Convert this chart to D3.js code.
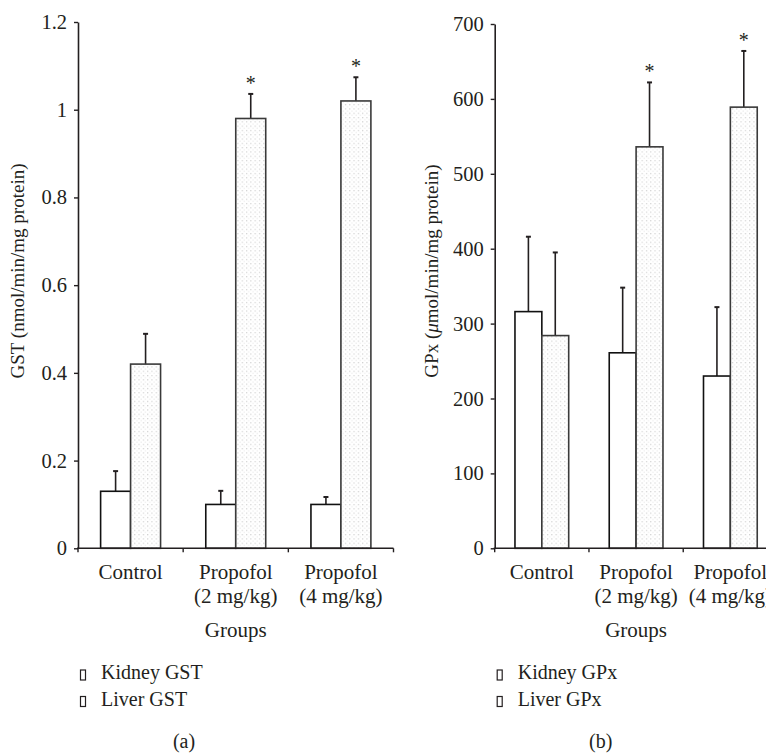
<!DOCTYPE html>
<html>
<head>
<meta charset="utf-8">
<script src="https://cdn.jsdelivr.net/npm/d3@7"></script>
<style>
  body { margin: 0; background: #fff; }
  text { font-family: "Liberation Serif", "Times New Roman", serif; fill: #231f20; }
</style>
</head>
<body>
<div id="chart"></div>
<script>
// groups on the x axis (label lines)
var groups = ["Control", "Propofol (2 mg/kg)", "Propofol (4 mg/kg)"];
var groupLines = [["Control"], ["Propofol", "(2 mg/kg)"], ["Propofol", "(4 mg/kg)"]];
var series = ["Kidney", "Liver"];

// panel (a) GST
var gstKidney = [0.13, 0.10, 0.10];
var gstKidneyErr = [0.046, 0.031, 0.017];
var gstLiver = [0.42, 0.98, 1.02];
var gstLiverErr = [0.069, 0.056, 0.054];
var gstTicks = [0, 0.2, 0.4, 0.6, 0.8, 1, 1.2];

// panel (b) GPx
var gpxKidney = [316, 261, 230];
var gpxKidneyErr = [100, 87, 92];
var gpxLiver = [284, 536, 589];
var gpxLiverErr = [111, 86, 75];
var gpxTicks = [0, 100, 200, 300, 400, 500, 600, 700];

// asterisk on liver bars
var liverStar = [false, true, true];

var W = 766, H = 753;
var svg = d3.select("#chart").append("svg")
  .attr("width", W)
  .attr("height", H);

// dotted fill for liver bars
var pat = svg.append("defs").append("pattern")
  .attr("id", "dots")
  .attr("patternUnits", "userSpaceOnUse")
  .attr("width", 4.3).attr("height", 4.3);
pat.append("rect").attr("width", 4.3).attr("height", 4.3).attr("fill", "#fff");
pat.append("rect").attr("x", 1).attr("y", 1).attr("width", 1).attr("height", 1).attr("fill", "#bdbdbd");
pat.append("rect").attr("x", 3.1).attr("y", 3.1).attr("width", 1).attr("height", 1).attr("fill", "#e4e4e4");

function panel(opt) {
  var g = svg.append("g");

  var x = d3.scaleBand().domain(groups).range([opt.x0, opt.x1]);
  var bw = x.bandwidth();
  var barW = bw * 0.285;
  var x1 = d3.scaleBand().domain(series).range([bw / 2 - barW, bw / 2 + barW]);

  var y = d3.scaleLinear().domain([0, opt.max]).range([548.3, opt.top]);

  var rows = groups.map(function(gr, i) {
    return [
      { g: gr, s: "Kidney", v: opt.kidney[i], e: opt.kidneyErr[i], star: false },
      { g: gr, s: "Liver", v: opt.liver[i], e: opt.liverErr[i], star: liverStar[i] }
    ];
  });
  var bars = [].concat.apply([], rows);

  // error bars (upper only)
  var eb = g.append("g");
  bars.forEach(function(d) {
    var cx = x(d.g) + x1(d.s) + barW / 2;
    eb.append("line")
      .attr("x1", cx).attr("x2", cx)
      .attr("y1", y(d.v)).attr("y2", y(d.v + d.e))
      .attr("stroke", "#231f20").attr("stroke-width", 1.6);
    eb.append("line")
      .attr("x1", cx - 2.5).attr("x2", cx + 2.5)
      .attr("y1", y(d.v + d.e)).attr("y2", y(d.v + d.e))
      .attr("stroke", "#231f20").attr("stroke-width", 2);
    if (d.star) {
      eb.append("text")
        .attr("x", cx).attr("y", y(d.v + d.e) - 4)
        .attr("text-anchor", "middle")
        .attr("font-size", "20px")
        .text("*");
    }
  });

  g.append("g").selectAll("rect")
    .data(bars)
    .join("rect")
      .attr("x", d => x(d.g) + x1(d.s))
      .attr("y", d => y(d.v))
      .attr("width", barW)
      .attr("height", d => y(0) - y(d.v))
      .attr("fill", d => d.s == "Liver" ? "url(#dots)" : "#fff")
      .attr("stroke", d => d.s == "Liver" ? "#3a3a3a" : "#111")
      .attr("stroke-width", 1.6);

  // y axis
  var yAxis = d3.axisLeft(y)
    .tickValues(opt.ticks)
    .tickSize(4)
    .tickSizeOuter(0)
    .tickPadding(7)
    .tickFormat(d => String(d));
  var ya = g.append("g")
    .attr("transform", "translate(" + opt.x0 + ",0)")
    .call(yAxis);
  ya.select(".domain").attr("stroke", "#231f20").attr("stroke-width", 1.6);
  ya.selectAll(".tick line").attr("stroke", "#231f20").attr("stroke-width", 1.4);
  ya.selectAll(".tick text")
    .attr("font-size", "20.5px")
    .attr("font-family", "Liberation Serif")
    .attr("fill", "#231f20");

  // x axis with ticks on the group boundaries
  var bounds = groups.map(d => x(d)).concat([x.range()[1]]);
  g.append("line")
    .attr("x1", opt.x0 - 1).attr("x2", x.range()[1])
    .attr("y1", y(0)).attr("y2", y(0))
    .attr("stroke", "#231f20").attr("stroke-width", 1.6);
  g.append("g").selectAll("line")
    .data(bounds)
    .join("line")
      .attr("x1", d => d).attr("x2", d => d)
      .attr("y1", y(0)).attr("y2", y(0) + 4)
      .attr("stroke", "#231f20").attr("stroke-width", 1.4);

  // group labels
  groups.forEach(function(gr, i) {
    var t = g.append("text")
      .attr("x", x(gr) + bw / 2)
      .attr("y", 579)
      .attr("text-anchor", "middle")
      .attr("font-size", "21px");
    groupLines[i].forEach(function(line, j) {
      t.append("tspan")
        .attr("x", x(gr) + bw / 2)
        .attr("dy", j == 0 ? 0 : 24)
        .text(line);
    });
  });

  g.append("text")
    .attr("x", (opt.x0 + x.range()[1]) / 2)
    .attr("y", 637)
    .attr("text-anchor", "middle")
    .attr("font-size", "21px")
    .text("Groups");

  // y title
  var yt = g.append("text")
    .attr("transform", "translate(" + (opt.titleX) + ",271) rotate(-90)")
    .attr("text-anchor", "middle")
    .attr("font-size", "19px");
  opt.title.forEach(function(p) {
    var s = yt.append("tspan").text(p[0]);
    if (p[1]) s.attr("font-style", "italic");
  });

  // legend
  opt.legend.forEach(function(txt, i) {
    var ly = 679 + i * 26.5;
    g.append("rect")
      .attr("x", opt.x0 + 2.5).attr("y", ly - 9)
      .attr("width", 5).attr("height", 10)
      .attr("fill", "#fff")
      .attr("stroke", "#231f20").attr("stroke-width", 1.2);
    g.append("text")
      .attr("x", opt.x0 + 23).attr("y", ly)
      .attr("font-size", "20px")
      .text(txt);
  });

  g.append("text")
    .attr("x", opt.x0 + 106).attr("y", 748)
    .attr("text-anchor", "middle")
    .attr("font-size", "20px")
    .text(opt.tag);
}

panel({
  x0: 78, x1: 393.5, top: 22, max: 1.2, ticks: gstTicks,
  kidney: gstKidney, kidneyErr: gstKidneyErr, liver: gstLiver, liverErr: gstLiverErr,
  title: [["GST (nmol/min/mg protein)", false]], titleX: 24,
  legend: ["Kidney GST", "Liver GST"], tag: "(a)"
});

panel({
  x0: 494.7, x1: 777.5, top: 24, max: 700, ticks: gpxTicks,
  kidney: gpxKidney, kidneyErr: gpxKidneyErr, liver: gpxLiver, liverErr: gpxLiverErr,
  title: [["GPx (", false], ["\u03bc", true], ["mol/min/mg protein)", false]], titleX: 438,
  legend: ["Kidney GPx", "Liver GPx"], tag: "(b)"
});
</script>
</body>
</html>
